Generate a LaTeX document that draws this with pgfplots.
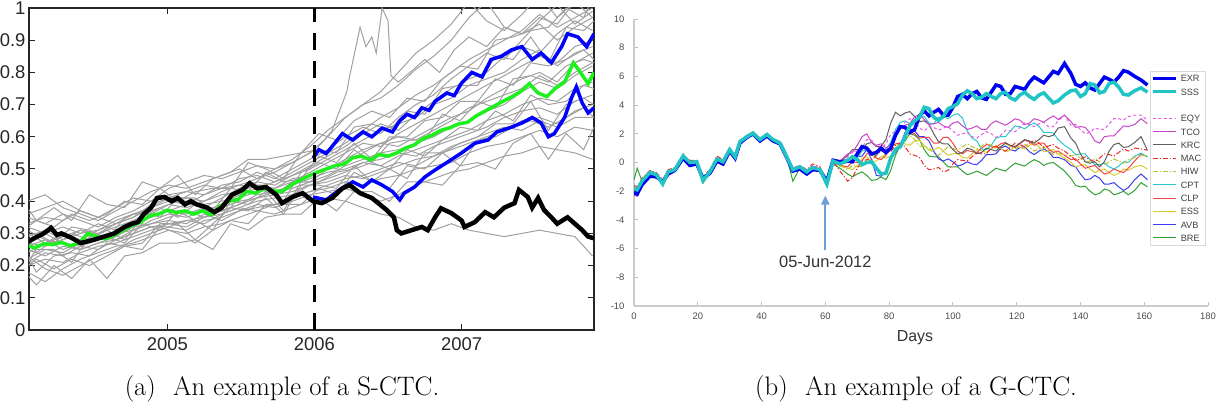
\documentclass[border=0pt]{standalone}
\usepackage{fontspec}
\usepackage{pgfplots}
\pgfplotsset{compat=1.18}
\usepackage{pgfplotstable}
\usetikzlibrary{arrows.meta}
\newfontfamily\helv{Liberation Sans}

\definecolor{pathgray}{RGB}{160,160,160}
\definecolor{medgreen}{RGB}{30,240,30}
\definecolor{bandblue}{RGB}{0,0,255}
\definecolor{exrcol}{RGB}{0,0,240}
\definecolor{ssscol}{RGB}{32,196,196}
\definecolor{eqycol}{RGB}{230,90,230}
\definecolor{tcocol}{RGB}{200,70,200}
\definecolor{krccol}{RGB}{95,95,95}
\definecolor{maccol}{RGB}{240,40,40}
\definecolor{hiwcol}{RGB}{185,195,40}
\definecolor{cptcol}{RGB}{40,200,205}
\definecolor{clpcol}{RGB}{240,70,70}
\definecolor{esscol}{RGB}{215,205,50}
\definecolor{avbcol}{RGB}{60,60,240}
\definecolor{brecol}{RGB}{50,160,50}
\definecolor{arrowblue}{RGB}{110,160,215}

\pgfplotsset{
  exrs/.style={exrcol, line width=3.5bp},
  ssss/.style={ssscol, line width=3.5bp},
  eqys/.style={eqycol, line width=1bp, dash pattern=on 3bp off 2.5bp},
  tcos/.style={tcocol, line width=1bp},
  krcs/.style={krccol, line width=1bp},
  macs/.style={maccol, line width=1bp, dash pattern=on 5bp off 2bp on 1.2bp off 2bp},
  hiws/.style={hiwcol, line width=1bp, dash pattern=on 5bp off 2bp on 1.2bp off 2bp},
  cpts/.style={cptcol, line width=1bp},
  clps/.style={clpcol, line width=1bp},
  esss/.style={esscol, line width=1bp},
  avbs/.style={avbcol, line width=1bp},
  bres/.style={brecol, line width=1bp},
}

% simulated paths (S-CTC), first set
\pgfplotstableread{
t g1 g3 g4 g5 g6 g7 g8 g9 g10 g11 g12 g13 g14 g15 g16 g17 g18
2004.05 0.40 0.33 0.24 0.22 0.29 0.25 0.20 0.27 0.23 0.32 0.18 0.26 0.36 0.28 0.31 0.35 0.21
2004.17 0.42 0.35 0.27 0.25 0.31 0.23 0.22 0.26 0.19 0.30 0.15 0.28 0.38 0.30 0.28 0.33 0.24
2004.29 0.38 0.34 0.30 0.24 0.28 0.26 0.21 0.28 0.17 0.27 0.19 0.27 0.40 0.32 0.25 0.36 0.23
2004.41 0.36 0.37 0.28 0.27 0.30 0.25 0.24 0.31 0.20 0.26 0.22 0.25 0.37 0.30 0.27 0.34 0.26
2004.53 0.34 0.35 0.31 0.29 0.33 0.27 0.26 0.29 0.23 0.28 0.24 0.27 0.35 0.31 0.30 0.32 0.25
2004.65 0.37 0.33 0.33 0.28 0.31 0.29 0.27 0.30 0.25 0.30 0.26 0.28 0.38 0.34 0.32 0.35 0.28
2004.77 0.40 0.36 0.35 0.31 0.34 0.32 0.29 0.33 0.28 0.31 0.27 0.30 0.41 0.36 0.34 0.37 0.30
2004.89 0.43 0.38 0.39 0.34 0.37 0.33 0.31 0.35 0.30 0.33 0.29 0.32 0.40 0.36 0.35 0.40 0.32
2005.01 0.45 0.41 0.41 0.36 0.39 0.35 0.33 0.37 0.32 0.34 0.31 0.32 0.44 0.39 0.37 0.42 0.33
2005.13 0.44 0.43 0.40 0.35 0.38 0.37 0.34 0.36 0.31 0.33 0.30 0.34 0.46 0.41 0.39 0.43 0.32
2005.25 0.46 0.42 0.38 0.37 0.40 0.35 0.33 0.38 0.34 0.36 0.32 0.35 0.48 0.40 0.39 0.45 0.35
2005.37 0.48 0.45 0.41 0.39 0.42 0.38 0.36 0.37 0.35 0.34 0.33 0.36 0.47 0.43 0.40 0.44 0.37
2005.49 0.50 0.46 0.44 0.42 0.43 0.40 0.38 0.39 0.37 0.37 0.35 0.38 0.49 0.45 0.41 0.47 0.39
2005.61 0.47 0.49 0.46 0.44 0.45 0.41 0.40 0.42 0.38 0.39 0.37 0.37 0.51 0.44 0.43 0.48 0.41
2005.73 0.49 0.47 0.45 0.42 0.44 0.43 0.41 0.43 0.39 0.38 0.36 0.39 0.50 0.46 0.44 0.46 0.42
2005.85 0.52 0.50 0.48 0.46 0.47 0.44 0.42 0.45 0.41 0.40 0.38 0.41 0.53 0.48 0.46 0.49 0.43
2005.97 0.55 0.53 0.51 0.49 0.48 0.46 0.45 0.47 0.43 0.42 0.40 0.43 0.57 0.50 0.46 0.52 0.45
2006.09 0.60 0.56 0.54 0.52 0.50 0.48 0.47 0.49 0.45 0.43 0.41 0.44 0.62 0.53 0.50 0.55 0.46
2006.21 0.66 0.60 0.57 0.55 0.53 0.51 0.49 0.50 0.47 0.44 0.40 0.46 0.66 0.56 0.52 0.58 0.48
2006.33 0.70 0.63 0.61 0.58 0.56 0.53 0.52 0.52 0.48 0.42 0.38 0.45 0.70 0.59 0.55 0.62 0.47
2006.45 0.74 0.61 0.64 0.57 0.58 0.55 0.51 0.53 0.50 0.40 0.36 0.47 0.72 0.62 0.58 0.66 0.49
2006.57 0.80 0.66 0.62 0.61 0.57 0.56 0.54 0.55 0.52 0.42 0.35 0.48 0.76 0.64 0.60 0.69 0.51
2006.69 0.86 0.70 0.67 0.64 0.60 0.58 0.56 0.54 0.51 0.45 0.32 0.50 0.81 0.66 0.59 0.73 0.53
2006.81 0.90 0.73 0.71 0.67 0.63 0.60 0.58 0.57 0.54 0.47 0.31 0.51 0.85 0.70 0.62 0.76 0.54
2006.93 0.95 0.78 0.75 0.70 0.66 0.63 0.60 0.59 0.56 0.49 0.33 0.52 0.90 0.72 0.65 0.80 0.57
2007.05 1.02 0.82 0.78 0.73 0.68 0.65 0.62 0.61 0.58 0.50 0.31 0.55 0.97 0.76 0.69 0.84 0.59
2007.17 0.96 0.86 0.80 0.76 0.72 0.68 0.65 0.63 0.60 0.52 0.30 0.57 1.02 0.78 0.71 0.87 0.61
2007.29 0.93 0.84 0.85 0.79 0.75 0.70 0.67 0.66 0.62 0.54 0.29 0.58 0.94 0.80 0.73 0.90 0.63
2007.41 0.98 0.90 0.88 0.82 0.78 0.74 0.70 0.68 0.65 0.55 0.30 0.60 0.92 0.84 0.75 0.93 0.62
2007.53 1.04 0.96 0.86 0.85 0.80 0.77 0.72 0.69 0.66 0.57 0.31 0.62 0.95 0.87 0.79 0.98 0.65
2007.65 0.97 1.01 0.92 0.83 0.77 0.75 0.71 0.67 0.64 0.56 0.30 0.60 0.90 0.82 0.76 0.94 0.63
2007.77 1.02 0.95 0.96 0.88 0.83 0.79 0.75 0.71 0.68 0.55 0.29 0.63 0.94 0.86 0.80 0.97 0.66
2007.89 1.05 0.99 0.93 0.90 0.86 0.82 0.77 0.73 0.70 0.53 0.23 0.62 0.97 0.88 0.83 1.00 0.66
}\pathtab

% simulated paths (S-CTC), second set
\pgfplotstableread{
t h1 h2 h3 h4 h5 h6 h7 h8
2004.05 0.32 0.20 0.29 0.21 0.38 0.17 0.29 0.23
2004.11 0.34 0.22 0.30 0.25 0.34 0.14 0.24 0.18
2004.23 0.32 0.19 0.27 0.25 0.38 0.20 0.28 0.23
2004.35 0.36 0.22 0.32 0.21 0.34 0.16 0.30 0.24
2004.47 0.34 0.20 0.31 0.29 0.42 0.22 0.28 0.23
2004.59 0.36 0.23 0.28 0.29 0.39 0.16 0.31 0.27
2004.71 0.40 0.26 0.35 0.27 0.38 0.23 0.28 0.26
2004.83 0.39 0.25 0.37 0.33 0.46 0.24 0.35 0.27
2004.95 0.44 0.32 0.35 0.31 0.44 0.27 0.38 0.33
2005.07 0.40 0.30 0.41 0.37 0.48 0.27 0.35 0.33
2005.19 0.43 0.27 0.41 0.34 0.42 0.28 0.39 0.28
2005.31 0.44 0.31 0.37 0.31 0.47 0.25 0.36 0.33
2005.43 0.44 0.34 0.44 0.40 0.49 0.33 0.38 0.38
2005.55 0.52 0.33 0.43 0.39 0.53 0.31 0.45 0.37
2005.67 0.50 0.39 0.49 0.43 0.53 0.35 0.45 0.41
2005.79 0.47 0.39 0.46 0.37 0.54 0.36 0.40 0.36
2005.91 0.55 0.39 0.47 0.46 0.55 0.36 0.49 0.45
2006.03 0.56 0.44 0.54 0.46 0.61 0.41 0.52 0.45
2006.15 0.55 0.42 0.52 0.49 0.59 0.37 0.50 0.44
2006.27 0.63 0.49 0.58 0.50 0.65 0.43 0.56 0.51
2006.39 0.64 0.46 0.53 0.52 0.68 0.43 0.52 0.46
2006.51 0.62 0.44 0.60 0.50 0.66 0.40 0.58 0.50
2006.63 0.68 0.51 0.60 0.56 0.72 0.46 0.59 0.47
2006.75 0.67 0.50 0.65 0.54 0.71 0.46 0.59 0.55
2006.87 0.75 0.55 0.66 0.59 0.78 0.45 0.67 0.55
2006.99 0.76 0.51 0.71 0.63 0.82 0.51 0.65 0.58
2007.11 0.76 0.59 0.71 0.62 0.81 0.52 0.71 0.60
2007.23 0.85 0.60 0.78 0.68 0.90 0.50 0.69 0.64
2007.35 0.84 0.63 0.76 0.65 0.91 0.58 0.78 0.64
2007.47 0.91 0.65 0.83 0.73 0.93 0.61 0.79 0.71
2007.59 0.83 0.63 0.82 0.70 0.94 0.53 0.77 0.62
2007.71 0.94 0.66 0.84 0.71 1.00 0.61 0.82 0.70
2007.83 0.93 0.69 0.87 0.76 0.97 0.56 0.84 0.72
2007.90 0.96 0.66 0.84 0.75 1.04 0.63 0.83 0.70
}\pathtabb

% median path
\pgfplotstableread{
t v
2004.05 0.262
2004.10 0.255
2004.16 0.268
2004.22 0.265
2004.28 0.272
2004.34 0.262
2004.40 0.270
2004.46 0.300
2004.52 0.290
2004.58 0.283
2004.64 0.295
2004.70 0.310
2004.76 0.325
2004.82 0.335
2004.88 0.355
2004.94 0.360
2005.00 0.372
2005.06 0.365
2005.12 0.370
2005.18 0.360
2005.24 0.370
2005.30 0.358
2005.36 0.385
2005.42 0.400
2005.48 0.405
2005.54 0.430
2005.60 0.425
2005.66 0.440
2005.72 0.432
2005.78 0.430
2005.84 0.450
2005.90 0.465
2005.96 0.478
2006.02 0.490
2006.08 0.500
2006.14 0.510
2006.20 0.515
2006.26 0.535
2006.32 0.540
2006.38 0.528
2006.44 0.545
2006.50 0.540
2006.56 0.550
2006.62 0.565
2006.68 0.575
2006.74 0.595
2006.80 0.605
2006.86 0.620
2006.92 0.628
2006.98 0.640
2007.04 0.645
2007.10 0.665
2007.16 0.680
2007.22 0.695
2007.28 0.710
2007.34 0.724
2007.40 0.740
2007.46 0.765
2007.52 0.736
2007.58 0.725
2007.64 0.752
2007.70 0.770
2007.76 0.830
2007.80 0.805
2007.86 0.765
2007.90 0.800
}\medtab

% observed series
\pgfplotstableread{
t v
2004.05 0.273
2004.10 0.286
2004.16 0.300
2004.21 0.317
2004.25 0.295
2004.28 0.300
2004.35 0.286
2004.41 0.270
2004.50 0.280
2004.57 0.290
2004.64 0.300
2004.71 0.320
2004.76 0.330
2004.80 0.335
2004.84 0.360
2004.89 0.380
2004.93 0.410
2004.98 0.413
2005.03 0.400
2005.07 0.410
2005.12 0.390
2005.16 0.400
2005.20 0.390
2005.27 0.380
2005.32 0.366
2005.37 0.380
2005.44 0.420
2005.51 0.435
2005.56 0.456
2005.61 0.440
2005.67 0.444
2005.74 0.420
2005.78 0.394
2005.85 0.413
2005.92 0.425
2005.99 0.400
2006.05 0.394
2006.12 0.410
2006.19 0.440
2006.24 0.450
2006.31 0.425
2006.39 0.410
2006.49 0.373
2006.54 0.350
2006.56 0.310
2006.59 0.300
2006.66 0.310
2006.73 0.320
2006.77 0.310
2006.82 0.350
2006.86 0.378
2006.93 0.363
2007.00 0.340
2007.02 0.320
2007.09 0.335
2007.16 0.366
2007.22 0.350
2007.29 0.380
2007.36 0.394
2007.39 0.435
2007.45 0.413
2007.48 0.380
2007.52 0.410
2007.56 0.373
2007.61 0.350
2007.65 0.330
2007.72 0.350
2007.77 0.330
2007.82 0.310
2007.86 0.290
2007.90 0.285
}\obstab

% upper and lower band
\pgfplotstableread{
t v
2005.99 0.534
2006.03 0.560
2006.08 0.548
2006.12 0.570
2006.19 0.610
2006.26 0.590
2006.33 0.615
2006.39 0.600
2006.46 0.627
2006.53 0.615
2006.58 0.650
2006.63 0.670
2006.68 0.660
2006.73 0.690
2006.78 0.682
2006.82 0.710
2006.90 0.736
2006.95 0.728
2007.00 0.767
2007.07 0.800
2007.14 0.786
2007.20 0.840
2007.27 0.850
2007.34 0.870
2007.41 0.880
2007.48 0.840
2007.54 0.860
2007.61 0.830
2007.68 0.880
2007.72 0.920
2007.79 0.910
2007.85 0.880
2007.90 0.920
}\uptab
\pgfplotstableread{
t v
2005.99 0.413
2006.08 0.404
2006.17 0.435
2006.26 0.460
2006.33 0.444
2006.39 0.466
2006.46 0.450
2006.53 0.430
2006.58 0.404
2006.61 0.425
2006.68 0.444
2006.75 0.475
2006.82 0.497
2006.90 0.520
2007.00 0.550
2007.09 0.580
2007.18 0.590
2007.24 0.615
2007.34 0.630
2007.41 0.643
2007.48 0.660
2007.54 0.643
2007.59 0.600
2007.63 0.610
2007.70 0.660
2007.75 0.724
2007.78 0.755
2007.82 0.705
2007.86 0.674
2007.90 0.690
}\lotab

% G-CTC series
\pgfplotstableread{
day exr sss eqy tco krc mac hiw cpt clp ess avb bre
0 -2.10 -1.80 -1.70 -2.30 -1.90 -1.60 -1.70 -1.80 -1.90 -1.80 -2.00 -1.20
1 -2.20 -1.90 -1.80 -2.35 -2.00 -1.70 -1.80 -1.90 -2.00 -1.90 -2.10 -0.40
2.5 -1.55 -1.30 -1.20 -1.60 -1.35 -1.10 -1.25 -1.30 -1.40 -1.30 -1.50 -1.30
5 -0.95 -0.70 -0.60 -0.80 -0.75 -0.55 -0.65 -0.70 -0.80 -0.70 -0.85 -0.60
7 -1.00 -0.85 -0.75 -0.90 -0.85 -0.70 -0.80 -0.90 -0.95 -0.80 -1.00 -0.80
9 -1.35 -1.50 -1.30 -1.40 -1.40 -1.20 -1.35 -1.60 -1.45 -1.40 -1.45 -1.55
10.7 -0.80 -0.65 -0.55 -0.70 -0.60 -0.50 -0.60 -0.65 -0.70 -0.60 -0.75 -0.60
12.8 -0.55 -0.50 -0.40 -0.60 -0.50 -0.35 -0.45 -0.50 -0.60 -0.45 -0.60 -0.50
15.4 0.30 0.45 0.50 0.40 0.55 0.50 0.40 0.50 0.45 0.50 0.35 0.60
17.5 -0.20 0.00 0.10 -0.10 0.05 0.15 0.00 0.05 -0.05 0.10 -0.10 0.00
19.7 -0.10 0.05 0.10 -0.05 0.00 0.15 0.05 0.00 0.00 0.10 -0.10 -0.05
21.6 -1.10 -1.25 -1.10 -1.20 -1.15 -1.00 -1.15 -1.30 -1.20 -1.10 -1.25 -1.45
23.8 -0.75 -0.65 -0.60 -0.70 -0.70 -0.50 -0.65 -0.70 -0.75 -0.60 -0.80 -0.70
26 0.10 0.25 0.30 0.20 0.25 0.45 0.20 0.25 0.30 0.20 0.10 0.15
27.9 -0.10 0.05 0.10 0.00 0.05 0.20 0.00 0.05 0.10 0.00 -0.10 -0.05
30 0.80 0.90 0.95 0.90 0.85 1.00 0.85 0.90 0.95 0.85 0.75 0.80
31.7 0.30 0.40 0.45 0.35 0.40 0.50 0.35 0.40 0.45 0.40 0.30 0.30
33.2 1.35 1.45 1.50 1.40 1.45 1.50 1.40 1.45 1.50 1.40 1.35 1.40
35.4 1.75 1.80 1.85 1.75 1.80 1.85 1.75 1.80 1.90 1.80 1.70 1.85
37.3 2.00 2.05 2.10 2.00 2.05 2.10 2.00 2.05 2.10 2.00 1.95 2.05
39.5 1.50 1.60 1.65 1.55 1.60 1.65 1.55 1.60 1.65 1.55 1.50 1.60
41.7 1.85 1.95 1.95 1.85 1.90 1.95 1.85 1.95 1.95 1.90 1.80 1.90
43.6 1.50 1.60 1.65 1.55 1.60 1.60 1.55 1.60 1.60 1.55 1.50 1.55
45.8 1.30 1.35 1.45 1.35 1.40 1.40 1.30 1.35 1.40 1.35 1.30 1.30
48 0.30 0.35 0.45 0.40 0.40 0.45 0.35 0.35 0.40 0.35 0.30 0.30
49.8 -0.60 -0.50 -0.45 -0.50 -0.50 -0.40 -0.55 -0.60 -0.50 -0.60 -0.55 -1.30
52 -0.45 -0.30 -0.20 -0.25 -0.30 -0.20 -0.30 -0.35 -0.30 -0.35 -0.35 -0.40
54.2 -0.80 -0.65 -0.55 -0.60 -0.65 -0.50 -0.70 -0.70 -0.60 -0.70 -0.70 -0.75
56 -0.50 -0.35 -0.20 -0.30 -0.30 -0.10 -0.30 -0.35 -0.25 -0.35 -0.40 -0.40
58.3 -0.55 -0.50 -0.40 -0.50 -0.50 -0.30 -0.55 -0.55 -0.45 -0.50 -0.60 -0.60
60.5 -1.30 -1.50 -1.40 -1.45 -1.50 -1.35 -1.55 -1.55 -1.45 -1.60 -1.55 -1.70
62.4 0.15 0.10 0.20 0.25 0.20 0.10 0.00 0.15 0.20 0.05 0.10 -0.10
64.6 0.05 -0.10 0.00 0.10 0.05 -0.60 -0.20 -0.05 -0.20 -0.25 -0.10 -0.40
67 0.10 0.15 0.40 0.60 0.50 -1.30 -0.50 0.20 -0.30 -0.40 0.00 -0.80
68.5 0.05 0.40 0.80 0.70 0.90 -1.05 -0.20 0.05 0.05 -0.50 0.40 -1.00
70 0.60 0.20 0.80 1.20 0.90 -0.40 -0.30 0.30 0.00 -0.20 0.40 -0.80
71.5 1.10 -0.15 1.00 1.80 0.90 0.10 -0.25 0.80 0.10 0.30 0.45 -0.65
73 1.00 0.00 1.60 2.00 1.30 0.20 0.20 0.90 0.60 0.40 0.90 -0.90
74.5 0.60 0.05 1.55 1.40 1.40 0.15 0.50 0.50 0.65 0.05 0.20 -1.25
76 0.70 -0.40 1.10 1.20 1.10 0.50 0.40 0.50 0.30 0.10 -0.90 -1.20
77.5 1.00 -0.80 1.00 1.30 1.15 0.80 0.30 0.90 0.20 0.40 -0.95 -1.00
79 0.70 -0.75 1.30 1.00 1.60 0.70 0.60 0.90 0.50 0.30 -0.60 -1.20
80.5 1.00 0.30 1.95 1.25 2.75 0.75 1.10 1.40 1.10 0.45 0.25 -0.55
82 1.90 0.90 2.20 1.90 3.50 1.20 1.20 2.30 1.30 1.00 0.70 0.50
83.5 2.50 1.10 2.30 2.45 3.25 1.35 1.25 2.80 1.35 1.35 1.20 1.20
85 2.45 1.80 2.80 2.60 3.45 1.10 1.70 2.90 1.80 1.30 2.10 1.50
86.5 2.10 2.55 3.05 2.70 3.55 0.60 1.85 2.70 2.10 1.20 2.35 2.00
88 2.30 2.90 2.95 3.20 3.20 0.50 1.60 2.90 2.00 1.50 2.20 1.90
89.5 3.25 3.15 2.40 3.30 2.85 0.35 1.15 3.25 1.70 1.55 1.80 1.60
91 3.60 3.85 2.20 3.00 2.90 -0.20 1.10 3.20 1.75 1.20 1.80 0.90
92.5 3.25 3.75 2.50 2.65 2.65 -0.50 1.05 2.75 1.75 0.85 1.50 0.45
94 3.50 3.15 2.45 2.70 2.00 -0.45 0.60 2.70 1.35 0.90 0.80 0.40
95.5 3.70 2.95 2.25 2.80 1.45 -0.35 0.50 3.15 1.35 1.05 0.25 0.40
97 3.30 3.20 2.40 2.55 1.30 -0.65 0.80 3.20 1.75 0.80 0.10 0.05
98.5 3.30 3.75 2.50 2.45 1.30 -0.55 1.10 3.05 1.75 0.50 0.25 -0.30
100 3.85 3.90 2.20 2.75 0.90 -0.10 1.00 3.30 1.35 0.60 0.05 -0.30
101.5 4.60 4.10 1.90 2.85 0.60 0.20 0.85 3.40 0.80 0.65 -0.25 -0.30
103 4.75 4.70 2.00 2.55 0.70 0.15 1.10 3.10 0.60 0.35 -0.15 -0.60
104.5 4.45 5.00 2.10 2.30 1.00 0.10 1.30 2.20 0.85 0.30 0.05 -0.85
106 4.80 4.80 1.80 2.40 0.90 0.40 1.10 1.70 0.75 0.60 -0.10 -0.75
107.5 4.95 4.45 1.70 2.55 0.60 0.70 0.95 1.50 0.70 0.90 -0.15 -0.60
109 4.50 4.55 1.95 2.30 0.70 0.60 1.15 0.95 1.00 0.85 0.15 -0.75
110.5 4.40 4.80 2.15 2.30 1.00 0.60 1.35 0.90 1.25 0.70 0.55 -0.90
112 4.90 4.60 2.00 2.70 0.90 1.00 1.20 1.20 1.15 0.95 0.55 -0.65
113.5 5.40 4.45 1.75 2.90 0.80 1.15 0.95 1.70 1.05 1.15 0.60 -0.40
115 5.30 4.80 1.90 2.75 1.10 0.90 1.10 1.80 1.30 1.00 1.00 -0.50
116.5 4.75 4.90 2.25 2.60 1.35 0.80 1.30 1.80 1.40 0.75 1.15 -0.60
118 4.80 4.50 2.20 2.80 1.20 1.05 1.15 2.20 1.15 0.85 0.90 -0.30
119.5 5.30 4.35 2.15 3.05 1.10 1.35 0.95 2.55 1.05 1.15 0.80 -0.05
121 5.20 4.70 2.45 2.95 1.35 1.25 1.10 2.50 1.30 1.05 1.05 -0.15
122.5 5.10 4.90 2.75 2.65 1.60 1.10 1.25 2.35 1.55 0.95 1.10 -0.25
124 5.60 4.60 2.65 2.75 1.50 1.35 1.05 2.60 1.45 1.20 0.75 0.00
125.5 5.95 4.40 2.50 3.05 1.35 1.55 0.80 2.75 1.20 1.35 0.55 0.20
127 5.75 4.70 2.70 2.95 1.60 1.35 0.95 2.50 1.35 1.10 0.80 0.05
128.5 5.55 4.85 2.80 2.80 1.90 1.05 1.10 2.10 1.35 0.75 0.95 -0.20
130 5.95 4.50 2.50 3.05 1.80 1.15 0.85 2.10 0.95 0.80 0.75 -0.05
131.5 6.35 4.15 2.50 3.25 1.90 1.25 0.55 2.05 0.70 0.90 0.35 0.00
133 6.20 4.30 2.90 3.00 2.40 1.00 0.65 1.60 0.80 0.60 0.35 -0.25
135 6.90 4.70 3.30 3.30 2.50 0.80 0.55 1.20 0.50 0.30 0.20 -0.60
137 6.20 5.00 2.60 2.85 1.70 0.45 0.45 0.90 0.20 0.00 -0.20 -1.10
138.5 5.45 5.05 2.65 2.45 1.35 0.15 0.55 0.55 0.25 -0.30 -0.30 -1.60
140 5.30 4.60 2.30 2.50 0.60 0.25 0.30 0.60 -0.10 -0.20 -0.80 -1.70
141.5 5.55 4.80 2.00 2.45 0.05 0.40 0.00 0.60 -0.40 -0.15 -1.20 -1.65
143 5.20 5.50 2.10 2.05 -0.05 0.20 0.10 0.20 -0.30 -0.45 -1.15 -2.00
144.5 5.05 5.40 2.40 1.50 0.05 0.05 0.25 -0.15 -0.20 -0.70 -0.90 -2.25
146 5.50 4.85 2.30 1.35 -0.30 0.30 0.05 -0.15 -0.50 -0.55 -1.10 -2.15
147.5 5.95 4.95 2.30 1.80 0.05 0.60 -0.15 -0.05 -0.80 -0.45 -1.50 -1.85
149 5.80 5.50 2.70 1.85 0.80 0.55 0.05 -0.30 -0.70 -0.70 -1.50 -1.95
150.5 5.60 5.60 3.05 1.85 1.25 0.45 0.25 -0.45 -0.45 -0.90 -1.40 -2.25
152 5.95 5.25 3.05 2.20 1.35 0.70 0.10 -0.25 -0.60 -0.75 -1.70 -2.15
153.5 6.40 4.75 2.95 2.55 1.05 0.95 -0.05 0.05 -0.70 -0.45 -1.95 -2.00
155 6.30 4.70 3.20 2.50 1.10 0.80 0.20 0.00 -0.40 -0.55 -1.75 -2.25
157 6.00 5.00 3.30 2.65 1.40 1.00 0.35 0.45 0.10 -0.30 -1.20 -1.95
159 5.75 5.20 3.30 3.05 1.80 0.95 0.45 0.65 0.60 -0.20 -0.80 -1.40
161 5.40 4.90 2.95 2.70 0.85 0.85 0.50 0.40 0.40 -0.45 -1.20 -1.70
}\gctab

\begin{document}
\begin{tikzpicture}[x=1bp,y=1bp]

% ---------- (a) S-CTC ----------
\begin{axis}[
  at={(29bp,81bp)}, anchor=south west,
  scale only axis, width=565bp, height=322bp,
  xmin=2004.06, xmax=2007.9, ymin=0, ymax=1,
  xtick={2005,2006,2007},
  ytick={0,0.1,0.2,0.3,0.4,0.5,0.6,0.7,0.8,0.9,1},
  /pgf/number format/assume math mode=true,
  /pgf/number format/set thousands separator={},
  tick label style={font=\helv\fontsize{18.5}{20}\selectfont, text=black!85},
  xticklabel style={yshift=-4bp},
  tick align=inside, major tick length=6bp,
  tick style={color=black!85, line width=1bp},
  axis line style={color=black!85, line width=1.2bp},
]
\pgfplotsinvokeforeach{g1,g3,g4,g5,g6,g7,g8,g9,g10,g11,g12,g13,g14,g15,g16,g17,g18}{
  \addplot[pathgray, line width=1bp] table[x=t, y=#1]{\pathtab};
}
\pgfplotsinvokeforeach{h1,h2,h3,h4,h5,h6,h7,h8}{
  \addplot[pathgray, line width=1bp] table[x=t, y=#1]{\pathtabb};
}
\addplot[pathgray, line width=1bp] coordinates {
 (2004.05,0.30) (2004.17,0.27) (2004.29,0.29) (2004.41,0.31) (2004.53,0.30)
 (2004.65,0.33) (2004.77,0.35) (2004.89,0.38) (2005.01,0.40) (2005.13,0.39)
 (2005.25,0.42) (2005.37,0.44) (2005.49,0.45) (2005.61,0.47) (2005.73,0.50)
 (2005.85,0.52) (2005.97,0.55) (2006.05,0.58) (2006.12,0.62) (2006.17,0.68)
 (2006.22,0.74) (2006.24,0.79) (2006.31,0.94) (2006.35,0.88) (2006.39,0.91)
 (2006.42,0.86) (2006.46,1.00) (2006.50,0.96) (2006.52,0.79) (2006.57,0.77)
 (2006.65,0.80) (2006.75,0.84) (2006.85,0.80) (2006.95,0.87) (2007.05,0.91)
 (2007.17,0.88) (2007.29,0.94) (2007.41,0.92) (2007.53,0.97) (2007.65,0.95)
 (2007.77,1.02) (2007.89,0.97)};
\addplot[medgreen, line width=3.5bp] table[x=t, y=v]{\medtab};
\addplot[bandblue, line width=3.5bp] table[x=t, y=v]{\uptab};
\addplot[bandblue, line width=3.5bp] table[x=t, y=v]{\lotab};
\addplot[black, line width=4.5bp] table[x=t, y=v]{\obstab};
\addplot[black, line width=3.5bp, dash pattern=on 17bp off 11bp] coordinates {(2006,0) (2006,1)};
\end{axis}

% ---------- (b) G-CTC ----------
\begin{axis}[
  at={(634bp,105bp)}, anchor=south west,
  scale only axis, width=574bp, height=287bp,
  xmin=0, xmax=180, ymin=-10, ymax=10,
  xtick={0,20,40,60,80,100,120,140,160,180},
  ytick={-10,-8,-6,-4,-2,0,2,4,6,8,10},
  axis x line*=bottom, axis y line*=left,
  x axis line style={-}, y axis line style={-},
  axis line style={color=black!20, line width=1.1bp},
  tick align=inside, major tick length=4bp,
  tick style={color=black!25, line width=0.9bp},
  /pgf/number format/assume math mode=true,
  tick label style={font=\helv\fontsize{9.5}{11}\selectfont, text=black!70},
  yticklabel style={xshift=-6bp},
  xticklabel style={yshift=-3bp},
  xlabel={Days},
  xlabel style={at={(axis description cs:0.5,0)}, anchor=north, yshift=-24bp, xshift=-6bp,
    inner sep=0pt, font=\helv\fontsize{16}{18}\selectfont, text=black!80},
  legend cell align=left,
  legend image code/.code={\draw[#1] (0bp,0bp) -- (23bp,0bp);},
  legend style={at={(rel axis cs:0.995,0.819)}, anchor=north east,
    draw=black!15, fill=white, line width=0.6bp,
    font=\helv\fontsize{9.2}{11}\selectfont, text=black!75,
    inner sep=0.5bp, row sep=0bp,
    nodes={inner sep=3.2bp, text height=6.9bp, text depth=0bp}},
]
\addlegendimage{exrs}\addlegendentry{EXR}
\addlegendimage{ssss}\addlegendentry{SSS}
\addlegendimage{empty legend}\addlegendentry{}
\addlegendimage{eqys}\addlegendentry{EQY}
\addlegendimage{tcos}\addlegendentry{TCO}
\addlegendimage{krcs}\addlegendentry{KRC}
\addlegendimage{macs}\addlegendentry{MAC}
\addlegendimage{hiws}\addlegendentry{HIW}
\addlegendimage{cpts}\addlegendentry{CPT}
\addlegendimage{clps}\addlegendentry{CLP}
\addlegendimage{esss}\addlegendentry{ESS}
\addlegendimage{avbs}\addlegendentry{AVB}
\addlegendimage{bres}\addlegendentry{BRE}

\addplot[bres, forget plot] table[x=day, y=bre]{\gctab};
\addplot[avbs, forget plot] table[x=day, y=avb]{\gctab};
\addplot[esss, forget plot] table[x=day, y=ess]{\gctab};
\addplot[clps, forget plot] table[x=day, y=clp]{\gctab};
\addplot[cpts, forget plot] table[x=day, y=cpt]{\gctab};
\addplot[hiws, forget plot] table[x=day, y=hiw]{\gctab};
\addplot[macs, forget plot] table[x=day, y=mac]{\gctab};
\addplot[krcs, forget plot] table[x=day, y=krc]{\gctab};
\addplot[tcos, forget plot] table[x=day, y=tco]{\gctab};
\addplot[eqys, forget plot] table[x=day, y=eqy]{\gctab};
\addplot[exrs, forget plot] table[x=day, y=exr]{\gctab};
\addplot[ssss, forget plot] table[x=day, y=sss]{\gctab};

\draw[arrowblue, line width=2.2bp, -{Triangle[length=9bp, width=8bp]}] (axis cs:60,-6.1) -- (axis cs:60,-2.3);
\node[font=\helv\fontsize{16.5}{18}\selectfont, text=black!80] at (axis cs:60,-6.93) {05-Jun-2012};
\end{axis}

% sub-captions
\node[font=\fontsize{26.8}{30}\selectfont, anchor=base] at (282bp,16bp) {(a)\hspace{0.65em}An example of a S-CTC.};
\node[font=\fontsize{26.8}{30}\selectfont, anchor=base] at (916bp,16bp) {(b)\hspace{0.65em}An example of a G-CTC.};

\pgfresetboundingbox
\path (0bp,0bp) rectangle (1221bp,411bp);
\end{tikzpicture}
\end{document}
